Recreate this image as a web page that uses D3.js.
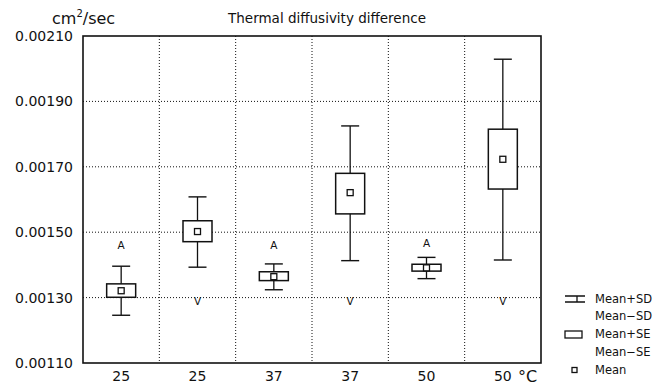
<!DOCTYPE html>
<html>
<head>
<meta charset="utf-8">
<script src="https://cdn.jsdelivr.net/npm/d3@7"></script>
<style>
  body { margin: 0; background: #fff; }
  text { font-family: "DejaVu Sans", sans-serif; fill: #111; }
</style>
</head>
<body>
<div id="chart"></div>
<script>
// temperatures (°C) for each group
var categories = ["25", "25", "37", "37", "50", "50"];
// cm2/sec
var means = [0.001321, 0.001502, 0.001364, 0.001621, 0.001391, 0.001723];
var seHigh = [0.001342, 0.001535, 0.001379, 0.001680, 0.001402, 0.001815];
var seLow = [0.001301, 0.001471, 0.001352, 0.001556, 0.001381, 0.001632];
var sdHigh = [0.001396, 0.001608, 0.001403, 0.001825, 0.001423, 0.002029];
var sdLow = [0.001246, 0.001393, 0.001324, 0.001413, 0.001358, 0.001415];
// little letters drawn above / below the groups
var markLabels = ["A", "V", "A", "V", "A", "V"];
var markValues = [0.001458, 0.001288, 0.001458, 0.001288, 0.001464, 0.001288];
var yTicks = [0.0011, 0.0013, 0.0015, 0.0017, 0.0019, 0.0021];
var legendLabels = ["Mean+SD", "Mean\u2212SD", "Mean+SE", "Mean\u2212SE", "Mean"];

var width = 662, height = 385;
var margin = {top: 36, right: 121, bottom: 22, left: 83};

var svg = d3.select("#chart")
    .append("svg")
    .attr("width", width)
    .attr("height", height);

var x = d3.scaleBand()
    .domain(d3.range(categories.length))
    .range([margin.left, width - margin.right])
    .padding(0);

var y = d3.scaleLinear()
    .domain([0.0011, 0.0021])
    .range([height - margin.bottom, margin.top]);

// dotted grid
svg.append("g")
    .selectAll("line")
    .data(yTicks.slice(1, -1))
    .join("line")
    .attr("x1", margin.left)
    .attr("x2", width - margin.right)
    .attr("y1", function(d) { return y(d); })
    .attr("y2", function(d) { return y(d); })
    .attr("stroke", "#111")
    .attr("stroke-width", 1)
    .attr("stroke-dasharray", "1,2");

svg.append("g")
    .selectAll("line")
    .data(d3.range(1, categories.length))
    .join("line")
    .attr("x1", function(i) { return x(i); })
    .attr("x2", function(i) { return x(i); })
    .attr("y1", margin.top)
    .attr("y2", height - margin.bottom)
    .attr("stroke", "#111")
    .attr("stroke-width", 1)
    .attr("stroke-dasharray", "1,2");

// frame
svg.append("rect")
    .attr("x", margin.left)
    .attr("y", margin.top)
    .attr("width", width - margin.left - margin.right)
    .attr("height", height - margin.top - margin.bottom)
    .attr("fill", "none")
    .attr("stroke", "#111")
    .attr("stroke-width", 1.6);

// y axis labels
var yAxis = d3.axisLeft(y)
    .tickValues(yTicks)
    .tickFormat(d3.format(".5f"))
    .tickSize(0)
    .tickPadding(10);

svg.append("g")
    .attr("transform", "translate(" + margin.left + ",0)")
    .call(yAxis)
    .call(function(g) { g.select(".domain").remove(); })
    .selectAll("text")
    .style("font-family", "'DejaVu Sans', sans-serif")
    .style("font-size", "14px")
    .attr("fill", "#111");

// x axis labels
var xAxis = d3.axisBottom(x)
    .tickFormat(function(i) { return categories[i]; })
    .tickSize(0)
    .tickPadding(8);

svg.append("g")
    .attr("transform", "translate(0," + (height - margin.bottom) + ")")
    .call(xAxis)
    .call(function(g) { g.select(".domain").remove(); })
    .selectAll("text")
    .style("font-family", "'DejaVu Sans', sans-serif")
    .style("font-size", "14px")
    .attr("fill", "#111");

svg.append("text")
    .attr("x", 518)
    .attr("y", 382)
    .style("font-size", "16px")
    .text("\u00B0C");

// titles
var unit = svg.append("text")
    .attr("x", 52)
    .attr("y", 24)
    .style("font-size", "16px");
unit.append("tspan").text("cm");
unit.append("tspan").attr("dy", -7).style("font-size", "10px").text("2");
unit.append("tspan").attr("dy", 7).text("/sec");

svg.append("text")
    .attr("x", 327)
    .attr("y", 23)
    .attr("text-anchor", "middle")
    .style("font-size", "13.5px")
    .text("Thermal diffusivity difference");

// whisker boxes
var boxW = 29, capW = 18, meanW = 6;
var groups = svg.append("g")
    .selectAll("g")
    .data(d3.range(categories.length))
    .join("g")
    .attr("transform", function(i) { return "translate(" + (x(i) + x.bandwidth() / 2) + ",0)"; });

groups.append("line")
    .attr("x1", 0).attr("x2", 0)
    .attr("y1", function(i) { return y(sdHigh[i]); })
    .attr("y2", function(i) { return y(sdLow[i]); })
    .attr("stroke", "#111")
    .attr("stroke-width", 1.3);

groups.append("line")
    .attr("x1", -capW / 2).attr("x2", capW / 2)
    .attr("y1", function(i) { return y(sdHigh[i]); })
    .attr("y2", function(i) { return y(sdHigh[i]); })
    .attr("stroke", "#111")
    .attr("stroke-width", 1.4);

groups.append("line")
    .attr("x1", -capW / 2).attr("x2", capW / 2)
    .attr("y1", function(i) { return y(sdLow[i]); })
    .attr("y2", function(i) { return y(sdLow[i]); })
    .attr("stroke", "#111")
    .attr("stroke-width", 1.4);

groups.append("rect")
    .attr("x", -boxW / 2)
    .attr("width", boxW)
    .attr("y", function(i) { return y(seHigh[i]); })
    .attr("height", function(i) { return y(seLow[i]) - y(seHigh[i]); })
    .attr("fill", "#fff")
    .attr("stroke", "#111")
    .attr("stroke-width", 1.5);

groups.append("rect")
    .attr("x", -meanW / 2)
    .attr("width", meanW)
    .attr("y", function(i) { return y(means[i]) - meanW / 2; })
    .attr("height", meanW)
    .attr("fill", "#fff")
    .attr("stroke", "#111")
    .attr("stroke-width", 1.3);

groups.append("text")
    .attr("y", function(i) { return y(markValues[i]); })
    .attr("text-anchor", "middle")
    .attr("dominant-baseline", "middle")
    .style("font-size", "10.5px")
    .text(function(i) { return markLabels[i]; });

// legend
var legend = svg.append("g").attr("transform", "translate(565,0)");
var rowY = d3.scalePoint()
    .domain(d3.range(legendLabels.length))
    .range([299, 370]);

legend.selectAll("text")
    .data(legendLabels)
    .join("text")
    .attr("x", 30)
    .attr("y", function(d, i) { return rowY(i); })
    .attr("dominant-baseline", "middle")
    .style("font-size", "11.5px")
    .text(function(d) { return d; });

// Mean+SD symbol
var sdY = rowY(0);
legend.append("path")
    .attr("d", "M0," + (sdY - 3) + "H20M0," + (sdY + 3) + "H20M12," + (sdY - 3) + "V" + (sdY + 3))
    .attr("fill", "none")
    .attr("stroke", "#111")
    .attr("stroke-width", 1.3);

// Mean+SE symbol
legend.append("rect")
    .attr("x", 0)
    .attr("y", rowY(2) - 3.5)
    .attr("width", 17)
    .attr("height", 7)
    .attr("fill", "#fff")
    .attr("stroke", "#111")
    .attr("stroke-width", 1.3);

// Mean symbol
legend.append("rect")
    .attr("x", 7)
    .attr("y", rowY(4) - 2.5)
    .attr("width", 5)
    .attr("height", 5)
    .attr("fill", "#fff")
    .attr("stroke", "#111")
    .attr("stroke-width", 1.3);
</script>
</body>
</html>
